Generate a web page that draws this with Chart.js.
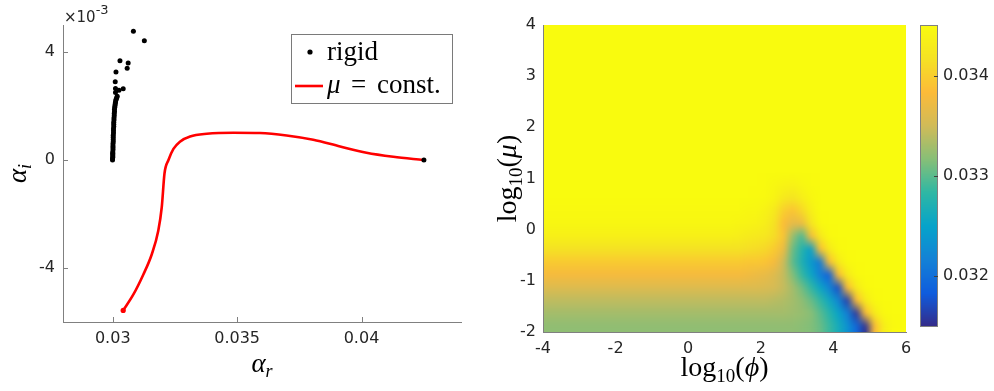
<!DOCTYPE html>
<html>
<head>
<meta charset="utf-8">
<script src="https://cdn.jsdelivr.net/npm/chart.js@4.4.0/dist/chart.umd.min.js"></script>
<style>
  html, body { margin: 0; padding: 0; background: #fff; }
  #wrap { position: relative; width: 994px; height: 391px; overflow: hidden; }
  canvas { position: absolute; top: 0; }
</style>
</head>
<body>
<div id="wrap">
  <canvas id="left" width="480" height="391" style="left:0;width:480px;height:391px"></canvas>
  <canvas id="right" width="514" height="391" style="left:480px;width:514px;height:391px"></canvas>
  <canvas id="cbar" width="94" height="391" style="left:900px;width:94px;height:391px"></canvas>
</div>
<script>
// ---- left panel: alpha_i vs alpha_r (alpha_i in units of 1e-3) ----
const rigidAr = [0.02999, 0.02999, 0.03000, 0.03000, 0.03000, 0.03000, 0.03000, 0.03001, 0.03001, 0.03001,
  0.03001, 0.03002, 0.03002, 0.03002, 0.03002, 0.03003, 0.03003, 0.03003, 0.03004, 0.03004,
  0.03004, 0.03005, 0.03005, 0.03006, 0.03006, 0.03007, 0.03007, 0.03008, 0.03009, 0.03010,
  0.03011, 0.03012, 0.03014, 0.03016, 0.03018, 0.03011, 0.03025, 0.03042, 0.03011, 0.03010,
  0.03013, 0.03058, 0.03062, 0.03029, 0.03083, 0.03127, 0.04251];
const rigidAi = [0.00, 0.05, 0.10, 0.15, 0.20, 0.25, 0.30, 0.38, 0.45, 0.52,
  0.60, 0.68, 0.76, 0.84, 0.92, 1.00, 1.08, 1.16, 1.24, 1.32,
  1.40, 1.48, 1.56, 1.64, 1.72, 1.80, 1.88, 1.95, 2.02, 2.08,
  2.14, 2.20, 2.26, 2.31, 2.36, 2.50, 2.58, 2.64, 2.65, 2.90,
  3.26, 3.40, 3.59, 3.68, 4.77, 4.42, 0.00];
const constAr = [0.03042, 0.03083, 0.03123, 0.03157, 0.03183, 0.03197, 0.03208, 0.03224, 0.03244, 0.03270,
  0.03311, 0.03378, 0.03485, 0.03592, 0.03699, 0.03806, 0.03914, 0.04020, 0.04128, 0.04248];
const constAi = [-5.57, -4.98, -4.24, -3.49, -2.62, -1.75, -0.50, 0.00, 0.41, 0.68,
  0.87, 0.97, 1.01, 1.00, 0.91, 0.75, 0.50, 0.27, 0.12, 0.00];
const arTicks = [0.03, 0.035, 0.04];
const aiTicks = [-4, 0, 4];

// ---- right panel: alpha_r over log10(phi) x log10(mu), rows bottom (mu=-2) to top (mu=4) ----
const phiRange = [-4, 6];
const muRange = [-2, 4];
const phiTicks = [-4, -2, 0, 2, 4, 6];
const muTicks = [-2, -1, 0, 1, 2, 3, 4];
const cbarRange = [0.03149, 0.03451];
const cbarTicks = [0.032, 0.033, 0.034];
const heatRows = [
  [0.03321,0.03321,0.03321,0.03321,0.03321,0.03321,0.03321,0.03321,0.03321,0.03321,0.03321,0.03321,0.03321,0.03321,0.03321,0.03321,0.03321,0.03321,0.03321,0.03321,
   0.03321,0.03321,0.03321,0.03321,0.03321,0.03321,0.03321,0.03321,0.03318,0.03315,0.03306,0.03288,0.03264,0.03234,0.03194,0.03155,0.03385,0.03433,0.03448,0.03451],
  [0.03330,0.03330,0.03330,0.03330,0.03330,0.03330,0.03330,0.03330,0.03330,0.03330,0.03330,0.03330,0.03330,0.03330,0.03330,0.03330,0.03330,0.03330,0.03330,0.03330,
   0.03330,0.03330,0.03330,0.03330,0.03330,0.03330,0.03330,0.03327,0.03324,0.03318,0.03300,0.03279,0.03252,0.03215,0.03158,0.03385,0.03430,0.03448,0.03451,0.03451],
  [0.03342,0.03342,0.03342,0.03342,0.03342,0.03342,0.03342,0.03342,0.03342,0.03342,0.03342,0.03342,0.03342,0.03342,0.03342,0.03342,0.03342,0.03342,0.03342,0.03342,
   0.03342,0.03342,0.03342,0.03342,0.03342,0.03339,0.03336,0.03330,0.03321,0.03306,0.03285,0.03258,0.03221,0.03164,0.03385,0.03430,0.03448,0.03451,0.03451,0.03451],
  [0.03360,0.03360,0.03360,0.03360,0.03360,0.03360,0.03360,0.03360,0.03360,0.03360,0.03360,0.03360,0.03360,0.03360,0.03360,0.03360,0.03360,0.03360,0.03360,0.03360,
   0.03360,0.03360,0.03360,0.03360,0.03357,0.03354,0.03345,0.03330,0.03309,0.03285,0.03255,0.03221,0.03173,0.03385,0.03430,0.03448,0.03451,0.03451,0.03451,0.03451],
  [0.03379,0.03379,0.03379,0.03379,0.03379,0.03379,0.03379,0.03379,0.03379,0.03379,0.03379,0.03379,0.03379,0.03379,0.03379,0.03379,0.03379,0.03379,0.03379,0.03379,
   0.03379,0.03379,0.03376,0.03372,0.03369,0.03360,0.03345,0.03315,0.03285,0.03255,0.03215,0.03185,0.03385,0.03430,0.03448,0.03451,0.03451,0.03451,0.03451,0.03451],
  [0.03397,0.03397,0.03397,0.03397,0.03397,0.03397,0.03397,0.03397,0.03397,0.03397,0.03397,0.03397,0.03397,0.03397,0.03397,0.03397,0.03397,0.03397,0.03397,0.03397,
   0.03397,0.03397,0.03394,0.03394,0.03391,0.03379,0.03348,0.03300,0.03270,0.03240,0.03209,0.03385,0.03430,0.03448,0.03451,0.03451,0.03451,0.03451,0.03451,0.03451],
  [0.03418,0.03418,0.03418,0.03418,0.03418,0.03418,0.03418,0.03418,0.03418,0.03418,0.03418,0.03418,0.03418,0.03418,0.03418,0.03418,0.03418,0.03418,0.03418,0.03418,
   0.03418,0.03418,0.03415,0.03412,0.03409,0.03397,0.03372,0.03306,0.03276,0.03246,0.03385,0.03430,0.03448,0.03451,0.03451,0.03451,0.03451,0.03451,0.03451,0.03451],
  [0.03436,0.03436,0.03436,0.03436,0.03436,0.03436,0.03436,0.03436,0.03436,0.03436,0.03436,0.03436,0.03436,0.03436,0.03436,0.03436,0.03436,0.03436,0.03436,0.03436,
   0.03436,0.03433,0.03430,0.03427,0.03424,0.03412,0.03391,0.03324,0.03294,0.03379,0.03427,0.03448,0.03451,0.03451,0.03451,0.03451,0.03451,0.03451,0.03451,0.03451],
  [0.03445,0.03445,0.03445,0.03445,0.03445,0.03445,0.03445,0.03445,0.03445,0.03445,0.03445,0.03445,0.03445,0.03445,0.03445,0.03445,0.03445,0.03445,0.03445,0.03445,
   0.03445,0.03443,0.03442,0.03439,0.03433,0.03418,0.03385,0.03366,0.03372,0.03421,0.03448,0.03451,0.03451,0.03451,0.03451,0.03451,0.03451,0.03451,0.03451,0.03451],
  [0.03448,0.03448,0.03448,0.03448,0.03448,0.03448,0.03448,0.03448,0.03448,0.03448,0.03448,0.03448,0.03448,0.03448,0.03448,0.03448,0.03448,0.03448,0.03448,0.03448,
   0.03448,0.03448,0.03446,0.03445,0.03439,0.03427,0.03400,0.03391,0.03409,0.03436,0.03451,0.03451,0.03451,0.03451,0.03451,0.03451,0.03451,0.03451,0.03451,0.03451],
  [0.03451,0.03451,0.03451,0.03451,0.03451,0.03451,0.03451,0.03451,0.03451,0.03451,0.03451,0.03451,0.03451,0.03451,0.03451,0.03451,0.03451,0.03451,0.03451,0.03451,
   0.03451,0.03451,0.03451,0.03450,0.03448,0.03442,0.03427,0.03421,0.03433,0.03446,0.03451,0.03451,0.03451,0.03451,0.03451,0.03451,0.03451,0.03451,0.03451,0.03451],
  [0.03451,0.03451,0.03451,0.03451,0.03451,0.03451,0.03451,0.03451,0.03451,0.03451,0.03451,0.03451,0.03451,0.03451,0.03451,0.03451,0.03451,0.03451,0.03451,0.03451,
   0.03451,0.03451,0.03451,0.03451,0.03450,0.03446,0.03442,0.03439,0.03445,0.03450,0.03451,0.03451,0.03451,0.03451,0.03451,0.03451,0.03451,0.03451,0.03451,0.03451],
  [0.03451,0.03451,0.03451,0.03451,0.03451,0.03451,0.03451,0.03451,0.03451,0.03451,0.03451,0.03451,0.03451,0.03451,0.03451,0.03451,0.03451,0.03451,0.03451,0.03451,
   0.03451,0.03451,0.03451,0.03451,0.03451,0.03451,0.03451,0.03451,0.03451,0.03451,0.03451,0.03451,0.03451,0.03451,0.03451,0.03451,0.03451,0.03451,0.03451,0.03451],
  [0.03451,0.03451,0.03451,0.03451,0.03451,0.03451,0.03451,0.03451,0.03451,0.03451,0.03451,0.03451,0.03451,0.03451,0.03451,0.03451,0.03451,0.03451,0.03451,0.03451,
   0.03451,0.03451,0.03451,0.03451,0.03451,0.03451,0.03451,0.03451,0.03451,0.03451,0.03451,0.03451,0.03451,0.03451,0.03451,0.03451,0.03451,0.03451,0.03451,0.03451],
  [0.03451,0.03451,0.03451,0.03451,0.03451,0.03451,0.03451,0.03451,0.03451,0.03451,0.03451,0.03451,0.03451,0.03451,0.03451,0.03451,0.03451,0.03451,0.03451,0.03451,
   0.03451,0.03451,0.03451,0.03451,0.03451,0.03451,0.03451,0.03451,0.03451,0.03451,0.03451,0.03451,0.03451,0.03451,0.03451,0.03451,0.03451,0.03451,0.03451,0.03451],
  [0.03451,0.03451,0.03451,0.03451,0.03451,0.03451,0.03451,0.03451,0.03451,0.03451,0.03451,0.03451,0.03451,0.03451,0.03451,0.03451,0.03451,0.03451,0.03451,0.03451,
   0.03451,0.03451,0.03451,0.03451,0.03451,0.03451,0.03451,0.03451,0.03451,0.03451,0.03451,0.03451,0.03451,0.03451,0.03451,0.03451,0.03451,0.03451,0.03451,0.03451],
  [0.03451,0.03451,0.03451,0.03451,0.03451,0.03451,0.03451,0.03451,0.03451,0.03451,0.03451,0.03451,0.03451,0.03451,0.03451,0.03451,0.03451,0.03451,0.03451,0.03451,
   0.03451,0.03451,0.03451,0.03451,0.03451,0.03451,0.03451,0.03451,0.03451,0.03451,0.03451,0.03451,0.03451,0.03451,0.03451,0.03451,0.03451,0.03451,0.03451,0.03451],
  [0.03451,0.03451,0.03451,0.03451,0.03451,0.03451,0.03451,0.03451,0.03451,0.03451,0.03451,0.03451,0.03451,0.03451,0.03451,0.03451,0.03451,0.03451,0.03451,0.03451,
   0.03451,0.03451,0.03451,0.03451,0.03451,0.03451,0.03451,0.03451,0.03451,0.03451,0.03451,0.03451,0.03451,0.03451,0.03451,0.03451,0.03451,0.03451,0.03451,0.03451],
  [0.03451,0.03451,0.03451,0.03451,0.03451,0.03451,0.03451,0.03451,0.03451,0.03451,0.03451,0.03451,0.03451,0.03451,0.03451,0.03451,0.03451,0.03451,0.03451,0.03451,
   0.03451,0.03451,0.03451,0.03451,0.03451,0.03451,0.03451,0.03451,0.03451,0.03451,0.03451,0.03451,0.03451,0.03451,0.03451,0.03451,0.03451,0.03451,0.03451,0.03451],
  [0.03451,0.03451,0.03451,0.03451,0.03451,0.03451,0.03451,0.03451,0.03451,0.03451,0.03451,0.03451,0.03451,0.03451,0.03451,0.03451,0.03451,0.03451,0.03451,0.03451,
   0.03451,0.03451,0.03451,0.03451,0.03451,0.03451,0.03451,0.03451,0.03451,0.03451,0.03451,0.03451,0.03451,0.03451,0.03451,0.03451,0.03451,0.03451,0.03451,0.03451],
  [0.03451,0.03451,0.03451,0.03451,0.03451,0.03451,0.03451,0.03451,0.03451,0.03451,0.03451,0.03451,0.03451,0.03451,0.03451,0.03451,0.03451,0.03451,0.03451,0.03451,
   0.03451,0.03451,0.03451,0.03451,0.03451,0.03451,0.03451,0.03451,0.03451,0.03451,0.03451,0.03451,0.03451,0.03451,0.03451,0.03451,0.03451,0.03451,0.03451,0.03451],
  [0.03451,0.03451,0.03451,0.03451,0.03451,0.03451,0.03451,0.03451,0.03451,0.03451,0.03451,0.03451,0.03451,0.03451,0.03451,0.03451,0.03451,0.03451,0.03451,0.03451,
   0.03451,0.03451,0.03451,0.03451,0.03451,0.03451,0.03451,0.03451,0.03451,0.03451,0.03451,0.03451,0.03451,0.03451,0.03451,0.03451,0.03451,0.03451,0.03451,0.03451],
  [0.03451,0.03451,0.03451,0.03451,0.03451,0.03451,0.03451,0.03451,0.03451,0.03451,0.03451,0.03451,0.03451,0.03451,0.03451,0.03451,0.03451,0.03451,0.03451,0.03451,
   0.03451,0.03451,0.03451,0.03451,0.03451,0.03451,0.03451,0.03451,0.03451,0.03451,0.03451,0.03451,0.03451,0.03451,0.03451,0.03451,0.03451,0.03451,0.03451,0.03451],
  [0.03451,0.03451,0.03451,0.03451,0.03451,0.03451,0.03451,0.03451,0.03451,0.03451,0.03451,0.03451,0.03451,0.03451,0.03451,0.03451,0.03451,0.03451,0.03451,0.03451,
   0.03451,0.03451,0.03451,0.03451,0.03451,0.03451,0.03451,0.03451,0.03451,0.03451,0.03451,0.03451,0.03451,0.03451,0.03451,0.03451,0.03451,0.03451,0.03451,0.03451]
];

// parula (MATLAB) colormap stops
const parula = [[53,42,135],[15,92,221],[20,129,214],[6,163,202],[46,183,164],
  [135,191,119],[209,187,88],[252,187,57],[245,226,36],[249,251,14]];
function parulaRGB(v) {
  let t = (v - cbarRange[0]) / (cbarRange[1] - cbarRange[0]);
  t = Math.max(0, Math.min(1, t)) * (parula.length - 1);
  const i = Math.min(Math.floor(t), parula.length - 2), f = t - i;
  return parula[i].map((c, k) => Math.round(c + (parula[i + 1][k] - c) * f));
}

const SANS = '"DejaVu Sans", sans-serif';
const SERIF = '"Liberation Serif", "DejaVu Serif", serif';
const tickFont = { family: SANS, size: 16 };
const tickColor = '#262626';
const axisColor = '#808080';

function drawParts(ctx, parts, x, y) {
  // parts: [text, font, dy]; centred on x
  let w = 0;
  parts.forEach(p => { ctx.font = p[1]; w += ctx.measureText(p[0]).width; });
  let cx = x - w / 2;
  parts.forEach(p => {
    ctx.font = p[1];
    ctx.fillText(p[0], cx, y + (p[2] || 0));
    cx += ctx.measureText(p[0]).width;
  });
}

function inwardTicks(chart, len) {
  const { ctx, chartArea: a, scales: { x, y } } = chart;
  ctx.save();
  ctx.strokeStyle = axisColor;
  ctx.lineWidth = 1;
  x.ticks.forEach(t => {
    const px = Math.round(x.getPixelForValue(t.value)) + 0.5;
    ctx.beginPath(); ctx.moveTo(px, a.bottom); ctx.lineTo(px, a.bottom - len); ctx.stroke();
  });
  y.ticks.forEach(t => {
    const py = Math.round(y.getPixelForValue(t.value)) + 0.5;
    ctx.beginPath(); ctx.moveTo(a.left, py); ctx.lineTo(a.left + len, py); ctx.stroke();
  });
  ctx.restore();
}

const leftDeco = {
  id: 'leftDeco',
  afterDraw(chart) {
    const { ctx, chartArea: a } = chart;
    inwardTicks(chart, 5);
    ctx.save();
    ctx.fillStyle = tickColor;
    ctx.textBaseline = 'alphabetic';
    ctx.textAlign = 'left';
    ctx.font = `15px ${SANS}`;
    ctx.fillText('×10', a.left + 1, 22);
    const w = ctx.measureText('×10').width;
    ctx.font = `13px ${SANS}`;
    ctx.fillText('-3', a.left + 1 + w, 14);
    // axis titles
    ctx.fillStyle = '#000';
    drawParts(ctx, [['α', `italic 27px ${SERIF}`], ['r', `italic 18px ${SERIF}`, 5]], (a.left + a.right) / 2, 372);
    ctx.translate(26, (a.top + a.bottom) / 2);
    ctx.rotate(-Math.PI / 2);
    drawParts(ctx, [['α', `italic 27px ${SERIF}`], ['i', `italic 18px ${SERIF}`, 5]], 0, 0);
    ctx.restore();

    // legend box
    ctx.save();
    ctx.fillStyle = '#fff';
    ctx.fillRect(291, 34, 161, 69);
    ctx.strokeStyle = '#7a7a7a';
    ctx.lineWidth = 1;
    ctx.strokeRect(291.5, 34.5, 161, 69);
    ctx.fillStyle = '#000';
    ctx.beginPath(); ctx.arc(310, 52, 2.6, 0, Math.PI * 2); ctx.fill();
    ctx.font = `27px ${SERIF}`;
    ctx.textAlign = 'left';
    ctx.fillText(chart.data.datasets[0].label, 327, 60);
    ctx.strokeStyle = '#ff0000';
    ctx.lineWidth = 2.6;
    ctx.beginPath(); ctx.moveTo(295, 86); ctx.lineTo(323, 86); ctx.stroke();
    ctx.font = `italic 27px ${SERIF}`;
    ctx.fillText('μ', 327, 93);
    ctx.font = `27px ${SERIF}`;
    ctx.fillText('=', 351, 93);
    ctx.fillText('const.', 377, 93);
    ctx.restore();
  }
};

new Chart(document.getElementById('left'), {
  type: 'scatter',
  data: {
    datasets: [
      {
        label: 'rigid',
        data: rigidAr.map((x, i) => ({ x, y: rigidAi[i] })),
        backgroundColor: '#000',
        borderColor: '#000',
        borderWidth: 0,
        pointRadius: 2.5,
        showLine: false
      },
      {
        label: 'μ = const.',
        data: constAr.map((x, i) => ({ x, y: constAi[i] })),
        showLine: true,
        borderColor: '#ff0000',
        backgroundColor: '#ff0000',
        borderWidth: 2.6,
        pointRadius: ctx => ctx.dataIndex === 0 ? 2.6 : 0,
        pointBorderWidth: 0,
        cubicInterpolationMode: 'monotone'
      }
    ]
  },
  options: {
    responsive: false,
    animation: false,
    layout: { padding: { left: 0, top: 25, right: 19, bottom: 0 } },
    plugins: { legend: { display: false }, tooltip: { enabled: false } },
    scales: {
      x: {
        type: 'linear', min: 0.028, max: 0.044,
        afterBuildTicks: s => { s.ticks = arTicks.map(v => ({ value: v })); },
        afterFit: s => { s.height = 69; },
        ticks: { font: tickFont, color: tickColor, padding: 7, maxRotation: 0, callback: v => String(v) },
        grid: { display: false, drawTicks: false },
        border: { color: axisColor, width: 1 }
      },
      y: {
        type: 'linear', min: -6, max: 5,
        afterBuildTicks: s => { s.ticks = aiTicks.map(v => ({ value: v })); },
        afterFit: s => { s.width = 63; },
        ticks: { font: tickFont, color: tickColor, padding: 8, callback: v => String(v) },
        grid: { display: false, drawTicks: false },
        border: { color: axisColor, width: 1 }
      }
    }
  },
  plugins: [leftDeco]
});

// ---- right panel ----
const heatPlugin = {
  id: 'heat',
  beforeDraw(chart) {
    const { ctx, scales: { x, y } } = chart;
    const nRow = heatRows.length, nCol = heatRows[0].length;
    const off = document.createElement('canvas');
    off.width = nCol; off.height = nRow;
    const octx = off.getContext('2d');
    const img = octx.createImageData(nCol, nRow);
    heatRows.forEach((row, r) => row.forEach((v, c) => {
      const rgb = parulaRGB(v);
      const idx = ((nRow - 1 - r) * nCol + c) * 4;
      img.data[idx] = rgb[0]; img.data[idx + 1] = rgb[1]; img.data[idx + 2] = rgb[2]; img.data[idx + 3] = 255;
    }));
    octx.putImageData(img, 0, 0);
    const x0 = x.getPixelForValue(phiRange[0]), x1 = x.getPixelForValue(phiRange[1]);
    const y0 = y.getPixelForValue(muRange[1]), y1 = y.getPixelForValue(muRange[0]);
    ctx.save();
    ctx.imageSmoothingEnabled = true;
    ctx.drawImage(off, x0, y0, x1 - x0, y1 - y0);
    // soften the cell steps (shaded look), edges keep the sharp base underneath
    ctx.beginPath();
    ctx.rect(x0, y0, x1 - x0, y1 - y0);
    ctx.clip();
    ctx.filter = 'blur(2px)';
    ctx.drawImage(off, x0, y0, x1 - x0, y1 - y0);
    ctx.restore();
  },
  afterDraw(chart) {
    const { ctx, chartArea: a } = chart;
    ctx.save();
    ctx.fillStyle = '#000';
    ctx.textBaseline = 'alphabetic';
    drawParts(ctx, [['log', `28px ${SERIF}`], ['10', `19px ${SERIF}`, 6], ['(', `28px ${SERIF}`],
      ['ϕ', `italic 28px ${SERIF}`], [')', `28px ${SERIF}`]], (a.left + a.right) / 2, 376);
    ctx.translate(36, (a.top + a.bottom) / 2);
    ctx.rotate(-Math.PI / 2);
    drawParts(ctx, [['log', `28px ${SERIF}`], ['10', `19px ${SERIF}`, 6], ['(', `28px ${SERIF}`],
      ['μ', `italic 28px ${SERIF}`], [')', `28px ${SERIF}`]], 0, 0);
    ctx.restore();
  }
};

new Chart(document.getElementById('right'), {
  type: 'scatter',
  data: { datasets: [] },
  options: {
    responsive: false,
    animation: false,
    layout: { padding: { left: 0, top: 25, right: 88, bottom: 0 } },
    plugins: { legend: { display: false }, tooltip: { enabled: false } },
    scales: {
      x: {
        type: 'linear', min: phiRange[0], max: phiRange[1],
        afterBuildTicks: s => { s.ticks = phiTicks.map(v => ({ value: v })); },
        afterFit: s => { s.height = 59; },
        ticks: { font: tickFont, color: tickColor, padding: 7, maxRotation: 0, callback: v => String(v) },
        grid: { display: false, drawTicks: false },
        border: { color: axisColor, width: 1 }
      },
      y: {
        type: 'linear', min: muRange[0], max: muRange[1],
        afterBuildTicks: s => { s.ticks = muTicks.map(v => ({ value: v })); },
        afterFit: s => { s.width = 63; },
        ticks: { font: tickFont, color: tickColor, padding: 7, callback: v => String(v) },
        grid: { display: false, drawTicks: false },
        border: { color: axisColor, width: 1 }
      }
    }
  },
  plugins: [heatPlugin]
});

// ---- colorbar ----
const cbarPlugin = {
  id: 'cbarFill',
  beforeDraw(chart) {
    const { ctx, chartArea: a, scales: { y } } = chart;
    ctx.save();
    for (let py = Math.floor(a.top); py < Math.ceil(a.bottom); py++) {
      const rgb = parulaRGB(y.getValueForPixel(py + 0.5));
      ctx.fillStyle = `rgb(${rgb[0]},${rgb[1]},${rgb[2]})`;
      ctx.fillRect(a.left, py, a.right - a.left, 1);
    }
    ctx.restore();
  },
  afterDraw(chart) {
    const { ctx, chartArea: a, scales: { y } } = chart;
    ctx.save();
    ctx.strokeStyle = axisColor;
    ctx.lineWidth = 1;
    ctx.strokeRect(a.left + 0.5, a.top + 0.5, a.right - a.left - 1, a.bottom - a.top - 1);
    ctx.strokeStyle = '#404040';
    y.ticks.forEach(t => {
      const py = Math.round(y.getPixelForValue(t.value)) + 0.5;
      ctx.beginPath(); ctx.moveTo(a.right, py); ctx.lineTo(a.right - 4, py); ctx.stroke();
    });
    ctx.restore();
  }
};

new Chart(document.getElementById('cbar'), {
  type: 'scatter',
  data: { datasets: [] },
  options: {
    responsive: false,
    animation: false,
    layout: { padding: { left: 20, top: 25, right: 0, bottom: 64 } },
    plugins: { legend: { display: false }, tooltip: { enabled: false } },
    scales: {
      x: { type: 'linear', display: false, min: 0, max: 1 },
      y: {
        type: 'linear', position: 'right', min: cbarRange[0], max: cbarRange[1],
        afterBuildTicks: s => { s.ticks = cbarTicks.map(v => ({ value: v })); },
        afterFit: s => { s.width = 56; },
        ticks: { font: tickFont, color: tickColor, padding: 5, callback: v => String(v) },
        grid: { display: false, drawTicks: false },
        border: { display: false }
      }
    }
  },
  plugins: [cbarPlugin]
});
</script>
</body>
</html>
